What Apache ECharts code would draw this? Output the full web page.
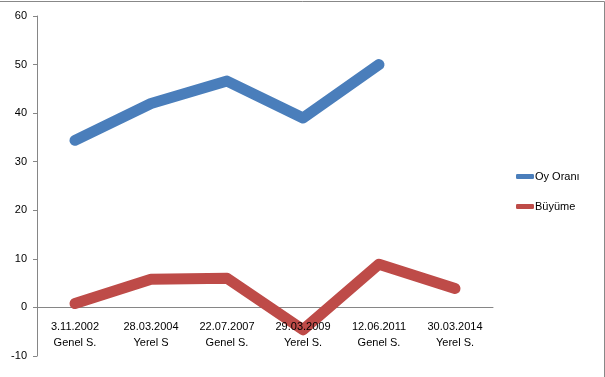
<!DOCTYPE html>
<html>
<head>
<meta charset="utf-8">
<script src="https://cdn.jsdelivr.net/npm/echarts@6/dist/echarts.min.js"></script>
<style>
  html, body { margin: 0; padding: 0; background: #fff; }
  #chart { width: 605px; height: 377px; }
</style>
</head>
<body>
<div id="chart"></div>
<script>
// secim tarihleri
const categories = [
  '3.11.2002\nGenel S.',
  '28.03.2004\nYerel S',
  '22.07.2007\nGenel S.',
  '29.03.2009\nYerel S.',
  '12.06.2011\nGenel S.',
  '30.03.2014\nYerel S.'
];
const oyOrani = [34.4, 42.0, 46.6, 39.0, 50.0, null];
const buyume = [0.8, 5.8, 6.0, -4.6, 8.9, 3.9];

const yMin = -10, yMax = 60;
const gridTop = 16, gridBottom = 21, chartH = 377;

const chart = echarts.init(document.getElementById('chart'));

const axisColor = '#868686';

// etiketleri sifir cizgisinin altina tasimak icin
const plotH = chartH - gridTop - gridBottom;
const labelOffset = -plotH * (0 - yMin) / (yMax - yMin);

chart.setOption({
  animation: false,
  textStyle: { fontFamily: 'Liberation Sans' },
  grid: { left: 37, right: 112, top: gridTop, bottom: gridBottom, outerBoundsMode: 'none', containLabel: false },
  legend: {
    orient: 'vertical',
    left: 511,
    top: 166,
    itemWidth: 18,
    itemHeight: 5,
    itemGap: 19,
    icon: 'roundRect',
    textStyle: { fontSize: 11, color: '#000', padding: [0, 0, 0, -4] },
    data: ['Oy Oranı', 'Büyüme']
  },
  xAxis: [
    {
      type: 'category',
      data: categories,
      axisLine: { onZero: true, lineStyle: { color: axisColor } },
      axisTick: { length: 5, lineStyle: { color: axisColor } },
      axisLabel: { show: false }
    },
    {
      type: 'category',
      data: categories,
      position: 'bottom',
      offset: labelOffset,
      z: 10,
      axisLine: { show: false, onZero: false },
      axisTick: { show: false },
      axisLabel: { color: '#000', fontSize: 11, lineHeight: 16, margin: 12, interval: 0 }
    }
  ],
  yAxis: {
    type: 'value',
    min: yMin,
    max: yMax,
    interval: 10,
    axisLine: { show: true, lineStyle: { color: axisColor } },
    axisTick: { show: true, length: 4, lineStyle: { color: axisColor } },
    axisLabel: { color: '#000', fontSize: 11, margin: 10 },
    splitLine: { show: false }
  },
  series: [
    {
      name: 'Oy Oranı',
      type: 'line',
      data: oyOrani,
      symbol: 'none',
      itemStyle: { color: '#4a7ebb' },
      lineStyle: { width: 11, color: '#4a7ebb', cap: 'round', join: 'round' }
    },
    {
      name: 'Büyüme',
      type: 'line',
      data: buyume,
      symbol: 'none',
      itemStyle: { color: '#be4b48' },
      lineStyle: { width: 11, color: '#be4b48', cap: 'round', join: 'round' }
    }
  ],
  graphic: [
    { type: 'line', shape: { x1: 0, y1: 1.5, x2: 604.5, y2: 1.5 }, style: { stroke: '#888', lineWidth: 1 } },
    { type: 'line', shape: { x1: 604.5, y1: 1.5, x2: 604.5, y2: 377 }, style: { stroke: '#888', lineWidth: 1 } }
  ]
});
</script>
</body>
</html>
